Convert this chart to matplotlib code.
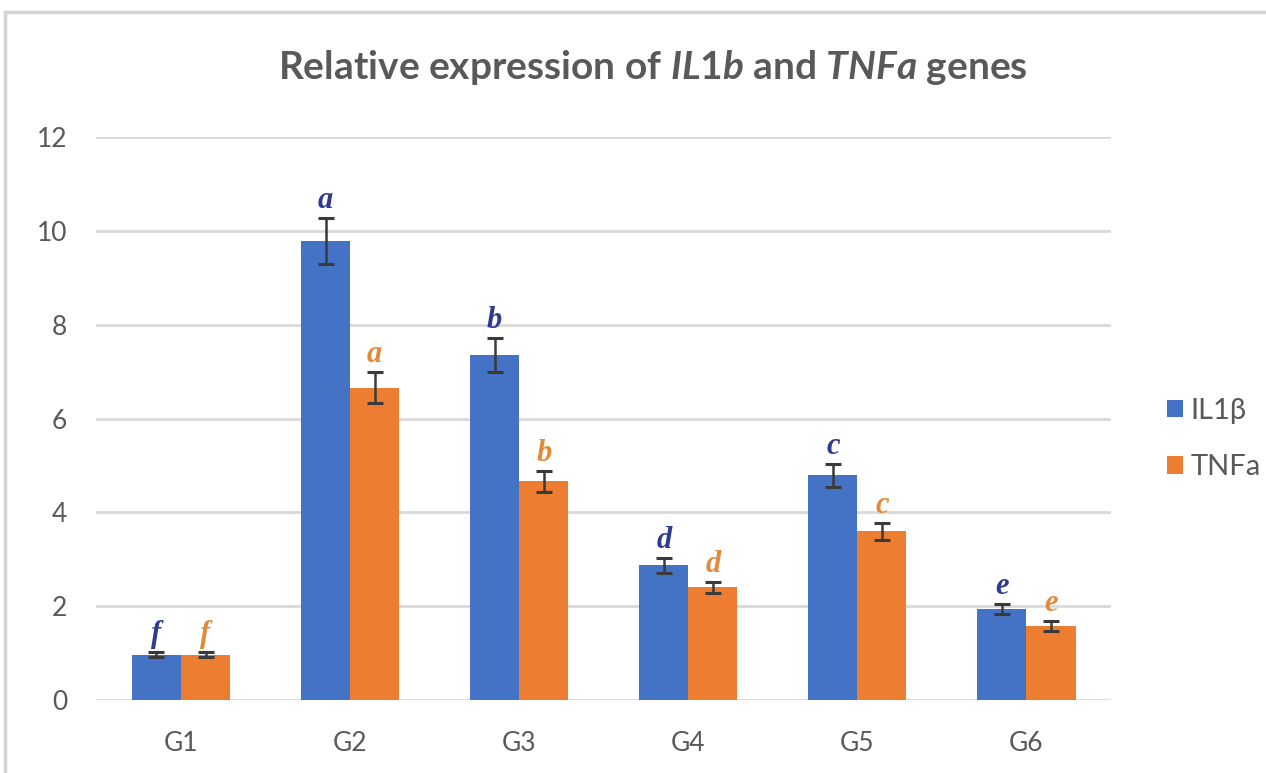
import numpy as np
import matplotlib
matplotlib.use("Agg")
import matplotlib.pyplot as plt
from matplotlib.lines import Line2D

groups = ["G1", "G2", "G3", "G4", "G5", "G6"]
il1b = [0.97, 9.79, 7.36, 2.87, 4.79, 1.94]
il1b_err = [0.06, 0.49, 0.36, 0.16, 0.24, 0.10]
tnfa = [0.97, 6.66, 4.66, 2.40, 3.60, 1.58]
tnfa_err = [0.06, 0.34, 0.23, 0.12, 0.18, 0.10]
il1b_letters = ["f", "a", "b", "d", "c", "e"]
tnfa_letters = ["f", "a", "b", "d", "c", "e"]
series_names = ["IL1β", "TNFa"]

blue = "#4472C4"
orange = "#ED7D31"
grey_txt = "#595959"

plt.rcParams["font.family"] = ["Lato", "DejaVu Sans"]
plt.rcParams["mathtext.fontset"] = "custom"
plt.rcParams["mathtext.it"] = "Lato:italic:bold"
plt.rcParams["mathtext.rm"] = "Lato:bold"

fig = plt.figure(figsize=(12.66, 7.73), dpi=100)
ax = fig.add_axes([0.0762, 0.0944, 0.8014, 0.7284])

x = np.arange(len(groups))
w = 0.29

bars1 = ax.bar(x - w / 2, il1b, w, color=blue, label=series_names[0], zorder=2)
bars2 = ax.bar(x + w / 2, tnfa, w, color=orange, label=series_names[1], zorder=2)

ax.errorbar(x - w / 2, il1b, yerr=il1b_err, fmt="none", ecolor="#3A3A3A",
            elinewidth=1.8, capsize=5.5, capthick=2.2, zorder=3)
ax.errorbar(x + w / 2, tnfa, yerr=tnfa_err, fmt="none", ecolor="#3A3A3A",
            elinewidth=1.8, capsize=5.5, capthick=2.2, zorder=3)

# letters over the error bars
for xi, v, e, s in zip(x - w / 2, il1b, il1b_err, il1b_letters):
    ax.annotate(s, (xi, v + e), xytext=(0, 10), textcoords="offset pixels",
                ha="center", va="baseline", fontsize=22, color="#2E3B8F",
                family="Liberation Serif", style="italic", weight="bold")
for xi, v, e, s in zip(x + w / 2, tnfa, tnfa_err, tnfa_letters):
    ax.annotate(s, (xi, v + e), xytext=(0, 10), textcoords="offset pixels",
                ha="center", va="baseline", fontsize=22, color="#E38A3A",
                family="Liberation Serif", style="italic", weight="bold")

ax.set_xlim(-0.5, len(groups) - 0.5)
ax.set_ylim(0, 12)
ax.set_yticks(np.arange(0, 13, 2))
ax.set_xticks(x)
ax.set_xticklabels(groups)
ax.yaxis.grid(True, color="#D9D9D9", linewidth=2)
ax.set_axisbelow(True)
for sp in ax.spines.values():
    sp.set_visible(False)
ax.tick_params(axis="y", length=0, pad=21, labelsize=19, labelcolor=grey_txt)
ax.tick_params(axis="x", length=0, pad=22, labelsize=19, labelcolor=grey_txt)

fig.text(0.516, 0.913, r"Relative expression of $\mathit{IL1b}$ and $\mathit{TNFa}$ genes",
         ha="center", va="center", fontsize=28, weight="bold", color=grey_txt)

fig.legend(handles=[bars1, bars2], labels=series_names, loc="center left",
           bbox_to_anchor=(0.9218, 0.432), bbox_transform=fig.transFigure,
           frameon=False, fontsize=21, labelcolor=grey_txt, borderpad=0,
           borderaxespad=0, handlelength=0.55, handleheight=0.55,
           handletextpad=0.25, labelspacing=1.05)

# chart border (top and left edges visible)
fig.add_artist(Line2D([5 / 1266, 1], [1 - 12 / 773, 1 - 12 / 773],
                      transform=fig.transFigure, color="#D4D4D4", lw=2.5))
fig.add_artist(Line2D([5 / 1266, 5 / 1266], [0, 1 - 12 / 773],
                      transform=fig.transFigure, color="#D4D4D4", lw=2.5))

fig.savefig("out.png", dpi=100)
